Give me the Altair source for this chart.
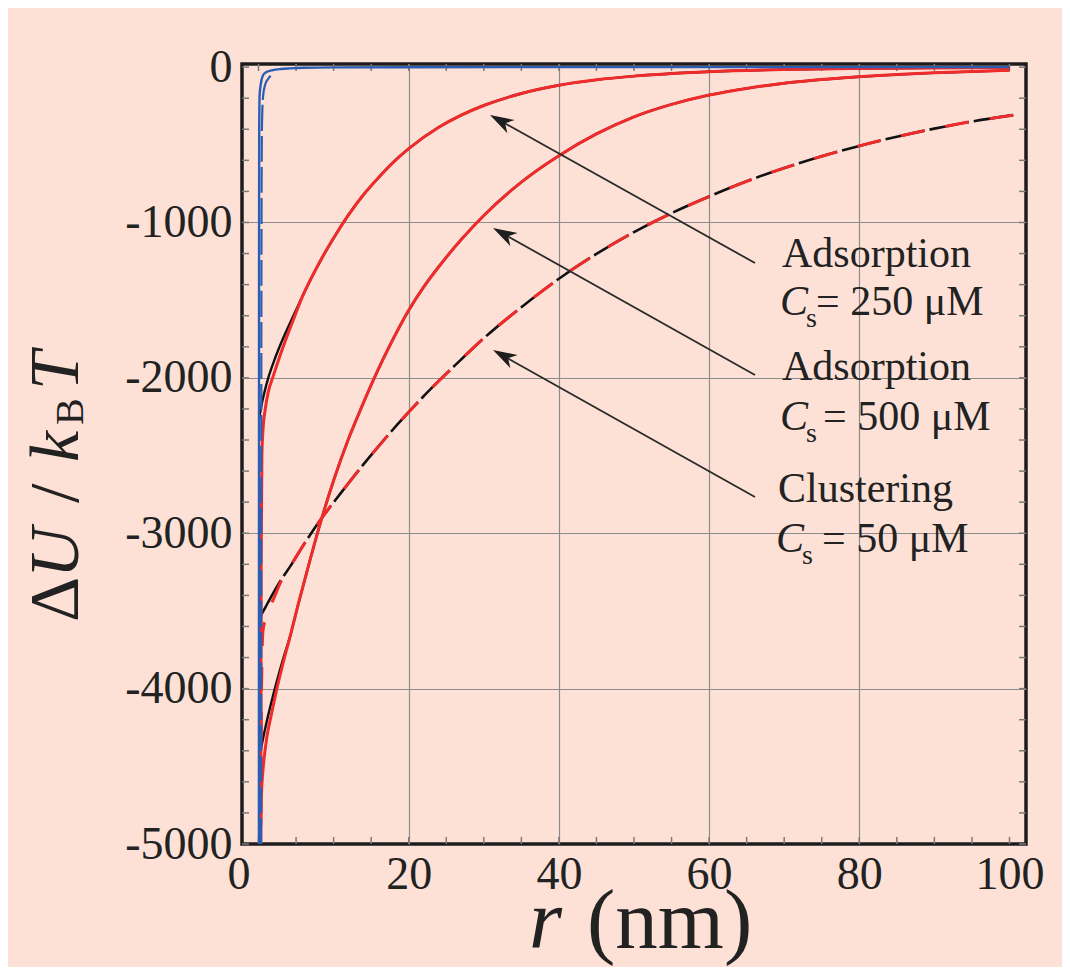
import altair as alt
import pandas as pd

# ---------------- data ----------------
# Adsorption, Cs = 250 uM : theory (black) and simulation (red); they coincide beyond r ~ 6
a_th_r = [0.1, 0.4, 0.8, 1.3, 2.0, 2.8, 3.6, 4.6]
a_th_u = [-2260, -2175, -2090, -2000, -1900, -1800, -1710, -1605]
a_sim_r = [0.3, 0.35, 0.45, 0.6, 0.9, 1.3, 1.9, 2.8, 3.6, 4.6]
a_sim_u = [-5000, -3200, -2500, -2330, -2200, -2090, -1997, -1865, -1757, -1630]
a_common_r = [6.0, 8.2, 10, 12, 14, 16, 18, 20, 24, 27, 30, 35, 40, 45, 50, 60, 70, 80, 90, 100]
a_common_u = [-1460, -1250, -1100, -950, -820, -710, -610, -525, -387, -309, -247, -170, -117,
              -82, -58, -30, -16, -9, -5, -3]

# Adsorption, Cs = 500 uM
b_th_r = [0.15, 0.5, 1.1, 1.7, 2.4, 3.3]
b_th_u = [-4430, -4345, -4210, -4090, -3960, -3805]
b_sim_r = [0.2, 0.3, 0.45, 0.7, 1.1, 1.7, 2.4, 3.3]
b_sim_u = [-5000, -4800, -4620, -4470, -4315, -4170, -4010, -3830]
b_common_r = [4.2, 5.3, 6.4, 8.2, 10, 12, 13.1, 15.8, 17.5, 20, 22, 24, 27, 30, 35, 40, 45, 50,
              55, 60, 65, 70, 75, 80, 90, 100]
b_common_u = [-3665, -3455, -3255, -2940, -2660, -2390, -2260, -1960, -1790, -1565, -1415, -1285,
              -1110, -955, -740, -570, -430, -320, -240, -180, -137, -104, -80, -62, -37, -21]

# Clustering, Cs = 50 uM
c_th_r = [0.2, 0.9, 1.9, 3.0, 4.2]
c_th_u = [-3540, -3478, -3390, -3300, -3215]
c_sim_r = [0.3, 0.35, 0.45, 0.6, 1.0, 1.5, 2.2, 3.0, 4.2]
c_sim_u = [-5000, -4300, -3850, -3625, -3545, -3480, -3400, -3310, -3215]
c_common_r = [6.0, 8.2, 10.9, 13.5, 16.2, 18.5, 20, 23, 26, 30, 35, 40, 45, 50, 55, 60, 65, 70,
              75, 80, 85, 90, 95, 100.5]
c_common_u = [-3075, -2917, -2745, -2585, -2428, -2300, -2220, -2068, -1927, -1745, -1545, -1362,
              -1202, -1062, -940, -833, -735, -650, -574, -507, -448, -396, -350, -309]

# blue curves (short range)
blue1_r = [0.05, 0.07, 0.09, 0.13, 0.3, 0.6, 1.0, 1.9, 3.0, 4.2, 6, 10, 20, 50, 100]
blue1_u = [-5000, -1200, -400, -190, -110, -52, -33, -19, -12, -8, -4, -1.5, -0.5, 0, 0]
blue2_r = [0.35, 0.38, 0.45, 0.6, 0.9, 1.3, 1.7]
blue2_u = [-5000, -1500, -400, -190, -110, -75, -52]

# axes
x_labels = [0, 20, 40, 60, 80, 100]
y_labels = [0, -1000, -2000, -3000, -4000, -5000]
x_minor = [0, 5, 10, 15, 20, 25, 30, 35, 40, 45, 50, 55, 60, 65, 70, 75, 80, 85, 90, 95, 100]
y_minor = [0, -200, -400, -600, -800, -1000, -1200, -1400, -1600, -1800, -2000, -2200, -2400,
           -2600, -2800, -3000, -3200, -3400, -3600, -3800, -4000, -4200, -4400, -4600, -4800, -5000]

# annotation texts
ann_titles = ["Adsorption", "Adsorption", "Clustering"]
ann_conc = ["= 250 μM", "= 500 μM", "= 50 μM"]

# ---------------- styling ----------------
W, H = 784, 780
FONT = "Liberation Serif"
BG = "#fde1d6"
RED = "#ef2b2b"
BLACK = "#111111"
BLUE = "#2a5db3"
INK = "#222222"

xs = alt.Scale(domain=[-2.2, 102.2], nice=False, zero=False)
ys = alt.Scale(domain=[-5000, 20], nice=False, zero=False)

xaxis = alt.Axis(values=x_labels, title=None, domain=False, ticks=False,
                 labelFont=FONT, labelFontSize=46, labelColor=INK, labelPadding=8,
                 labelFlush=False, labelOverlap=False,
                 labelOffset={"condition": {"test": "datum.value == 0", "value": -20}, "value": 0},
                 grid=True, gridColor="#8c8c8c", gridWidth=1.2,
                 gridOpacity={"condition": {"test": "datum.value > 0 && datum.value < 100", "value": 1}, "value": 0})
yaxis = alt.Axis(values=y_labels, title=None, domain=False, ticks=False,
                 labelFont=FONT, labelFontSize=46, labelColor=INK, labelPadding=10,
                 labelFlush=False, labelOverlap=False,
                 labelExpr="datum.value == 0 ? '0' : '-' + abs(datum.value)",
                 grid=True, gridColor="#8c8c8c", gridWidth=1.2,
                 gridOpacity={"condition": {"test": "datum.value < 0 && datum.value > -5000", "value": 1}, "value": 0})


def X(f):
    return alt.X(f, scale=xs, axis=xaxis)


def Y(f):
    return alt.Y(f, scale=ys, axis=yaxis)


def curve(r, u, color, width, dash=None, desc=False):
    df = pd.DataFrame({"r": r, "U": u})
    kw = dict(color=color, strokeWidth=width, interpolate="monotone", clip=True)
    if dash:
        kw["strokeDash"] = dash
    enc = dict(x=X("r:Q"), y=Y("U:Q"))
    if desc:
        enc["order"] = alt.Order("r:Q", sort="descending")
    return alt.Chart(df).mark_line(**kw).encode(**enc)


def text(s, x, y, size, italic=False, angle=0, color=INK):
    kw = dict(text=s, font=FONT, fontSize=size, color=color, align="left", baseline="alphabetic")
    if italic:
        kw["fontStyle"] = "italic"
    if angle:
        kw["angle"] = angle
    return alt.Chart(alt.Data(values=[{}])).mark_text(**kw).encode(x=alt.value(x), y=alt.value(y))


# ---------------- ticks (inward, on all four sides) ----------------
dfx = pd.DataFrame({"t": x_minor})
dfy = pd.DataFrame({"t": y_minor})
TICK = dict(color="#7a7a7a", strokeWidth=1.5)
xt_top = alt.Chart(dfx).mark_rule(**TICK).encode(x=X("t:Q"), y=alt.value(0), y2=alt.value(7))
xt_bot = alt.Chart(dfx).mark_rule(**TICK).encode(x=X("t:Q"), y=alt.value(H - 7), y2=alt.value(H))
yt_left = alt.Chart(dfy).mark_rule(**TICK).encode(y=Y("t:Q"), x=alt.value(0), x2=alt.value(7))
yt_right = alt.Chart(dfy).mark_rule(**TICK).encode(y=Y("t:Q"), x=alt.value(W - 7), x2=alt.value(W))

# ---------------- curves ----------------
layers = [xt_top, xt_bot, yt_left, yt_right]
layers.append(curve(a_th_r + a_common_r, a_th_u + a_common_u, BLACK, 2.4))
layers.append(curve(b_th_r + b_common_r, b_th_u + b_common_u, BLACK, 2.4))
layers.append(curve(c_th_r + c_common_r, c_th_u + c_common_u, BLACK, 2.6, dash=[40, 5], desc=True))
layers.append(curve(a_sim_r + a_common_r, a_sim_u + a_common_u, RED, 3))
layers.append(curve(b_sim_r + b_common_r, b_sim_u + b_common_u, RED, 3))
layers.append(curve(c_sim_r + c_common_r, c_sim_u + c_common_u, RED, 3, dash=[24, 21], desc=True))
layers.append(curve(blue1_r, blue1_u, BLUE, 2.4))
layers.append(curve(blue2_r, blue2_u, BLUE, 2.2, dash=[26, 5]))

# ---------------- arrows ----------------
ARROW = "M0,0 L0.5,1.6 L0,1.15 L-0.5,1.6 Z"
tails = [(513, 199), (513, 311), (513, 433)]
heads = [(248, 51), (251, 164), (251, 286)]
for (tx, ty), (hx, hy) in zip(tails, heads):
    layers.append(alt.Chart(alt.Data(values=[{}])).mark_rule(color="#2a2a2a", strokeWidth=1.8).encode(
        x=alt.value(tx), y=alt.value(ty), x2=alt.value(hx + 8), y2=alt.value(hy + 4.5)))
    layers.append(alt.Chart(alt.Data(values=[{}])).mark_point(
        shape=ARROW, filled=True, size=900, angle=299, color="#1e1e1e", opacity=1, strokeWidth=0).encode(
        x=alt.value(hx), y=alt.value(hy)))

# ---------------- annotation texts ----------------
blocks = [(540, 203, 251, 574), (540, 316, 366, 581), (536, 438, 488, 580)]
for title, conc, (tx, ty, cy, ex) in zip(ann_titles, ann_conc, blocks):
    layers.append(text(title, tx, ty, 42))
    layers.append(text("C", tx - 2, cy, 42, italic=True))
    layers.append(text("s", tx + 24, cy + 12, 28))
    layers.append(text(conc, ex, cy, 42))

# axis titles (composed from pieces)
layers.append(text("r", 287, 884, 85, italic=True))
layers.append(text("(nm)", 345, 884, 85))
layers.append(text("Δ", -164, 558, 70, angle=270))
layers.append(text("U", -164, 514, 70, italic=True, angle=270))
layers.append(text("/", -164, 439, 70, angle=270))
layers.append(text("k", -164, 398, 70, italic=True, angle=270))
layers.append(text("B", -159, 361, 40, angle=270))
layers.append(text("T", -164, 326, 70, italic=True, angle=270))

chart = alt.layer(*layers).properties(
    width=W, height=H,
    autosize=alt.AutoSizeParams(type="none"),
    padding={"left": 234, "top": 56, "right": 36, "bottom": 123},
    background=BG,
).configure_view(stroke="#1c1c1c", strokeWidth=3.5, fill=BG)

chart.save("out.html", embed_options={"renderer": "svg", "actions": False})
